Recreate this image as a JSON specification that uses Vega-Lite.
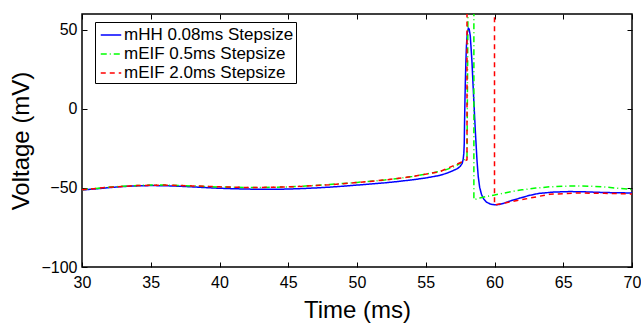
{
  "$schema": "https://vega.github.io/schema/vega-lite/v6.json",
  "width": 550,
  "height": 253,
  "autosize": {"type": "none"},
  "padding": {"left": 82, "top": 14, "right": 9, "bottom": 57},
  "background": "white",
  "config": {
    "font": "Liberation Sans",
    "view": {"stroke": "black", "strokeWidth": 1.5},
    "axis": {
      "domain": false,
      "grid": false,
      "tickColor": "black",
      "tickSize": -5,
      "tickWidth": 1,
      "labelFont": "Liberation Sans",
      "labelFontSize": 16,
      "labelColor": "black",
      "labelFlush": false,
      "labelOverlap": false,
      "labelBound": false,
      "titleFont": "Liberation Sans",
      "titleFontSize": 24,
      "titleFontWeight": "normal",
      "titleColor": "black"
    }
  },
  "data": {
    "values": [
      {"i": 1, "s": "mHH 0.08ms Stepsize", "t": 30, "v": -51.3},
      {"i": 2, "s": "mHH 0.08ms Stepsize", "t": 31, "v": -50.6},
      {"i": 3, "s": "mHH 0.08ms Stepsize", "t": 32, "v": -49.8},
      {"i": 4, "s": "mHH 0.08ms Stepsize", "t": 33, "v": -49.1},
      {"i": 5, "s": "mHH 0.08ms Stepsize", "t": 34, "v": -48.7},
      {"i": 6, "s": "mHH 0.08ms Stepsize", "t": 35, "v": -48.5},
      {"i": 7, "s": "mHH 0.08ms Stepsize", "t": 36, "v": -48.6},
      {"i": 8, "s": "mHH 0.08ms Stepsize", "t": 37, "v": -48.9},
      {"i": 9, "s": "mHH 0.08ms Stepsize", "t": 38, "v": -49.3},
      {"i": 10, "s": "mHH 0.08ms Stepsize", "t": 39, "v": -49.8},
      {"i": 11, "s": "mHH 0.08ms Stepsize", "t": 40, "v": -50.2},
      {"i": 12, "s": "mHH 0.08ms Stepsize", "t": 41, "v": -50.5},
      {"i": 13, "s": "mHH 0.08ms Stepsize", "t": 42, "v": -50.7},
      {"i": 14, "s": "mHH 0.08ms Stepsize", "t": 43, "v": -50.9},
      {"i": 15, "s": "mHH 0.08ms Stepsize", "t": 44, "v": -50.9},
      {"i": 16, "s": "mHH 0.08ms Stepsize", "t": 45, "v": -50.7},
      {"i": 17, "s": "mHH 0.08ms Stepsize", "t": 46, "v": -50.4},
      {"i": 18, "s": "mHH 0.08ms Stepsize", "t": 47, "v": -50.0},
      {"i": 19, "s": "mHH 0.08ms Stepsize", "t": 48, "v": -49.5},
      {"i": 20, "s": "mHH 0.08ms Stepsize", "t": 49, "v": -48.9},
      {"i": 21, "s": "mHH 0.08ms Stepsize", "t": 50, "v": -48.2},
      {"i": 22, "s": "mHH 0.08ms Stepsize", "t": 51, "v": -47.5},
      {"i": 23, "s": "mHH 0.08ms Stepsize", "t": 52, "v": -46.8},
      {"i": 24, "s": "mHH 0.08ms Stepsize", "t": 53, "v": -45.9},
      {"i": 25, "s": "mHH 0.08ms Stepsize", "t": 54, "v": -44.9},
      {"i": 26, "s": "mHH 0.08ms Stepsize", "t": 55, "v": -43.7},
      {"i": 27, "s": "mHH 0.08ms Stepsize", "t": 56, "v": -42.1},
      {"i": 28, "s": "mHH 0.08ms Stepsize", "t": 56.5, "v": -40.8},
      {"i": 29, "s": "mHH 0.08ms Stepsize", "t": 57, "v": -39.0},
      {"i": 30, "s": "mHH 0.08ms Stepsize", "t": 57.3, "v": -37.8},
      {"i": 31, "s": "mHH 0.08ms Stepsize", "t": 57.5, "v": -36.4},
      {"i": 32, "s": "mHH 0.08ms Stepsize", "t": 57.65, "v": -34.5},
      {"i": 33, "s": "mHH 0.08ms Stepsize", "t": 57.72, "v": -32},
      {"i": 34, "s": "mHH 0.08ms Stepsize", "t": 57.77, "v": -28},
      {"i": 35, "s": "mHH 0.08ms Stepsize", "t": 57.8, "v": -22},
      {"i": 36, "s": "mHH 0.08ms Stepsize", "t": 57.82, "v": -10},
      {"i": 37, "s": "mHH 0.08ms Stepsize", "t": 57.85, "v": 5},
      {"i": 38, "s": "mHH 0.08ms Stepsize", "t": 57.88, "v": 17},
      {"i": 39, "s": "mHH 0.08ms Stepsize", "t": 57.92, "v": 30},
      {"i": 40, "s": "mHH 0.08ms Stepsize", "t": 57.96, "v": 40},
      {"i": 41, "s": "mHH 0.08ms Stepsize", "t": 58.02, "v": 48},
      {"i": 42, "s": "mHH 0.08ms Stepsize", "t": 58.1, "v": 51},
      {"i": 43, "s": "mHH 0.08ms Stepsize", "t": 58.16, "v": 50.5},
      {"i": 44, "s": "mHH 0.08ms Stepsize", "t": 58.24, "v": 46},
      {"i": 45, "s": "mHH 0.08ms Stepsize", "t": 58.36, "v": 30},
      {"i": 46, "s": "mHH 0.08ms Stepsize", "t": 58.48, "v": 8},
      {"i": 47, "s": "mHH 0.08ms Stepsize", "t": 58.6, "v": -13},
      {"i": 48, "s": "mHH 0.08ms Stepsize", "t": 58.73, "v": -33},
      {"i": 49, "s": "mHH 0.08ms Stepsize", "t": 58.82, "v": -43},
      {"i": 50, "s": "mHH 0.08ms Stepsize", "t": 58.92, "v": -49.5},
      {"i": 51, "s": "mHH 0.08ms Stepsize", "t": 59.05, "v": -54},
      {"i": 52, "s": "mHH 0.08ms Stepsize", "t": 59.2, "v": -56.8},
      {"i": 53, "s": "mHH 0.08ms Stepsize", "t": 59.4, "v": -58.9},
      {"i": 54, "s": "mHH 0.08ms Stepsize", "t": 59.7, "v": -60.2},
      {"i": 55, "s": "mHH 0.08ms Stepsize", "t": 60.0, "v": -60.7},
      {"i": 56, "s": "mHH 0.08ms Stepsize", "t": 60.3, "v": -60.5},
      {"i": 57, "s": "mHH 0.08ms Stepsize", "t": 60.7, "v": -59.6},
      {"i": 58, "s": "mHH 0.08ms Stepsize", "t": 61.2, "v": -58.1},
      {"i": 59, "s": "mHH 0.08ms Stepsize", "t": 61.9, "v": -56.3},
      {"i": 60, "s": "mHH 0.08ms Stepsize", "t": 62.5, "v": -54.8},
      {"i": 61, "s": "mHH 0.08ms Stepsize", "t": 63.2, "v": -53.5},
      {"i": 62, "s": "mHH 0.08ms Stepsize", "t": 64.3, "v": -52.6},
      {"i": 63, "s": "mHH 0.08ms Stepsize", "t": 65.5, "v": -52.3},
      {"i": 64, "s": "mHH 0.08ms Stepsize", "t": 66.7, "v": -52.5},
      {"i": 65, "s": "mHH 0.08ms Stepsize", "t": 68, "v": -52.9},
      {"i": 66, "s": "mHH 0.08ms Stepsize", "t": 70, "v": -53.2},

      {"i": 101, "s": "mEIF 0.5ms Stepsize", "t": 30, "v": -51.1},
      {"i": 102, "s": "mEIF 0.5ms Stepsize", "t": 31, "v": -50.3},
      {"i": 103, "s": "mEIF 0.5ms Stepsize", "t": 32, "v": -49.5},
      {"i": 104, "s": "mEIF 0.5ms Stepsize", "t": 33, "v": -48.9},
      {"i": 105, "s": "mEIF 0.5ms Stepsize", "t": 34, "v": -48.5},
      {"i": 106, "s": "mEIF 0.5ms Stepsize", "t": 35, "v": -48.2},
      {"i": 107, "s": "mEIF 0.5ms Stepsize", "t": 36, "v": -48.2},
      {"i": 108, "s": "mEIF 0.5ms Stepsize", "t": 37, "v": -48.4},
      {"i": 109, "s": "mEIF 0.5ms Stepsize", "t": 38, "v": -48.7},
      {"i": 110, "s": "mEIF 0.5ms Stepsize", "t": 39, "v": -49.1},
      {"i": 111, "s": "mEIF 0.5ms Stepsize", "t": 40, "v": -49.4},
      {"i": 112, "s": "mEIF 0.5ms Stepsize", "t": 41, "v": -49.6},
      {"i": 113, "s": "mEIF 0.5ms Stepsize", "t": 42, "v": -49.7},
      {"i": 114, "s": "mEIF 0.5ms Stepsize", "t": 43, "v": -49.7},
      {"i": 115, "s": "mEIF 0.5ms Stepsize", "t": 44, "v": -49.6},
      {"i": 116, "s": "mEIF 0.5ms Stepsize", "t": 45, "v": -49.3},
      {"i": 117, "s": "mEIF 0.5ms Stepsize", "t": 46, "v": -48.9},
      {"i": 118, "s": "mEIF 0.5ms Stepsize", "t": 47, "v": -48.4},
      {"i": 119, "s": "mEIF 0.5ms Stepsize", "t": 48, "v": -47.8},
      {"i": 120, "s": "mEIF 0.5ms Stepsize", "t": 49, "v": -47.2},
      {"i": 121, "s": "mEIF 0.5ms Stepsize", "t": 50, "v": -46.5},
      {"i": 122, "s": "mEIF 0.5ms Stepsize", "t": 51, "v": -45.8},
      {"i": 123, "s": "mEIF 0.5ms Stepsize", "t": 52, "v": -45.0},
      {"i": 124, "s": "mEIF 0.5ms Stepsize", "t": 53, "v": -44.0},
      {"i": 125, "s": "mEIF 0.5ms Stepsize", "t": 54, "v": -42.8},
      {"i": 126, "s": "mEIF 0.5ms Stepsize", "t": 55, "v": -41.3},
      {"i": 127, "s": "mEIF 0.5ms Stepsize", "t": 56, "v": -39.6},
      {"i": 128, "s": "mEIF 0.5ms Stepsize", "t": 56.5, "v": -38.4},
      {"i": 129, "s": "mEIF 0.5ms Stepsize", "t": 57, "v": -36.8},
      {"i": 130, "s": "mEIF 0.5ms Stepsize", "t": 57.5, "v": -34.5},
      {"i": 131, "s": "mEIF 0.5ms Stepsize", "t": 58, "v": -30.5},
      {"i": 132, "s": "mEIF 0.5ms Stepsize", "t": 58.5, "v": 616},
      {"i": 133, "s": "mEIF 0.5ms Stepsize", "t": 58.5, "v": -57.4},
      {"i": 134, "s": "mEIF 0.5ms Stepsize", "t": 59, "v": -56.2},
      {"i": 135, "s": "mEIF 0.5ms Stepsize", "t": 59.5, "v": -55.3},
      {"i": 136, "s": "mEIF 0.5ms Stepsize", "t": 60, "v": -54.5},
      {"i": 137, "s": "mEIF 0.5ms Stepsize", "t": 60.5, "v": -53.6},
      {"i": 138, "s": "mEIF 0.5ms Stepsize", "t": 61, "v": -52.7},
      {"i": 139, "s": "mEIF 0.5ms Stepsize", "t": 62, "v": -51.2},
      {"i": 140, "s": "mEIF 0.5ms Stepsize", "t": 63, "v": -50.1},
      {"i": 141, "s": "mEIF 0.5ms Stepsize", "t": 64, "v": -49.3},
      {"i": 142, "s": "mEIF 0.5ms Stepsize", "t": 65, "v": -48.9},
      {"i": 143, "s": "mEIF 0.5ms Stepsize", "t": 66, "v": -48.7},
      {"i": 144, "s": "mEIF 0.5ms Stepsize", "t": 67, "v": -48.9},
      {"i": 145, "s": "mEIF 0.5ms Stepsize", "t": 68, "v": -49.4},
      {"i": 146, "s": "mEIF 0.5ms Stepsize", "t": 69, "v": -50.2},
      {"i": 147, "s": "mEIF 0.5ms Stepsize", "t": 70, "v": -51.0},

      {"i": 201, "s": "mEIF 2.0ms Stepsize", "t": 30, "v": -51.2},
      {"i": 202, "s": "mEIF 2.0ms Stepsize", "t": 32, "v": -49.5},
      {"i": 203, "s": "mEIF 2.0ms Stepsize", "t": 34, "v": -48.5},
      {"i": 204, "s": "mEIF 2.0ms Stepsize", "t": 36, "v": -48.2},
      {"i": 205, "s": "mEIF 2.0ms Stepsize", "t": 38, "v": -48.7},
      {"i": 206, "s": "mEIF 2.0ms Stepsize", "t": 40, "v": -49.3},
      {"i": 207, "s": "mEIF 2.0ms Stepsize", "t": 42, "v": -49.7},
      {"i": 208, "s": "mEIF 2.0ms Stepsize", "t": 44, "v": -49.6},
      {"i": 209, "s": "mEIF 2.0ms Stepsize", "t": 46, "v": -49.0},
      {"i": 210, "s": "mEIF 2.0ms Stepsize", "t": 48, "v": -48.0},
      {"i": 211, "s": "mEIF 2.0ms Stepsize", "t": 50, "v": -46.6},
      {"i": 212, "s": "mEIF 2.0ms Stepsize", "t": 52, "v": -45.0},
      {"i": 213, "s": "mEIF 2.0ms Stepsize", "t": 54, "v": -42.8},
      {"i": 214, "s": "mEIF 2.0ms Stepsize", "t": 56, "v": -39.8},
      {"i": 215, "s": "mEIF 2.0ms Stepsize", "t": 58, "v": -32.2},
      {"i": 216, "s": "mEIF 2.0ms Stepsize", "t": 58, "v": 200},
      {"i": 217, "s": "mEIF 2.0ms Stepsize", "t": 60, "v": 200},
      {"i": 218, "s": "mEIF 2.0ms Stepsize", "t": 60, "v": -60.8},
      {"i": 219, "s": "mEIF 2.0ms Stepsize", "t": 62, "v": -57.4},
      {"i": 220, "s": "mEIF 2.0ms Stepsize", "t": 64, "v": -54.0},
      {"i": 221, "s": "mEIF 2.0ms Stepsize", "t": 66, "v": -53.2},
      {"i": 222, "s": "mEIF 2.0ms Stepsize", "t": 68, "v": -53.4},
      {"i": 223, "s": "mEIF 2.0ms Stepsize", "t": 70, "v": -53.8}
    ]
  },
  "layer": [
    {
      "mark": {"type": "line", "clip": true, "strokeWidth": 1.5},
      "encoding": {
        "x": {
          "field": "t", "type": "quantitative",
          "scale": {"domain": [30, 70], "nice": false, "zero": false},
          "axis": {"orient": "bottom", "values": [30, 35, 40, 45, 50, 55, 60, 65, 70], "title": "Time (ms)", "labelPadding": 12, "titlePadding": 8}
        },
        "y": {
          "field": "v", "type": "quantitative",
          "scale": {"domain": [-100, 60], "nice": false, "zero": false},
          "axis": {"orient": "left", "values": [-100, -50, 0, 50], "title": "Voltage (mV)", "labelPadding": 10, "titlePadding": 7}
        },
        "color": {
          "field": "s", "type": "nominal",
          "scale": {"domain": ["mHH 0.08ms Stepsize", "mEIF 0.5ms Stepsize", "mEIF 2.0ms Stepsize"], "range": ["#0000ff", "#00ff00", "#ff0000"]},
          "legend": {"orient": "none", "legendX": 13, "legendY": 8, "title": null, "fillColor": "white", "strokeColor": "black", "padding": 2, "labelFont": "Liberation Sans", "labelFontSize": 17, "labelColor": "black", "labelLimit": 400, "symbolType": "stroke", "symbolSize": 420, "symbolStrokeWidth": 1.5, "symbolOffset": 3, "labelOffset": 2, "rowPadding": 0}
        },
        "strokeDash": {
          "field": "s", "type": "nominal",
          "scale": {"domain": ["mHH 0.08ms Stepsize", "mEIF 0.5ms Stepsize", "mEIF 2.0ms Stepsize"], "range": [[1, 0], [6, 3, 1, 3], [5, 4]]},
          "legend": {"orient": "none", "legendX": 13, "legendY": 8, "title": null, "fillColor": "white", "strokeColor": "black", "padding": 2, "labelFont": "Liberation Sans", "labelFontSize": 17, "labelColor": "black", "labelLimit": 400, "symbolType": "stroke", "symbolSize": 420, "symbolStrokeWidth": 1.5, "symbolOffset": 3, "labelOffset": 2, "rowPadding": 0}
        },
        "order": {"field": "i", "type": "quantitative"}
      }
    },
    {
      "mark": {"type": "point", "opacity": 0},
      "encoding": {
        "x": {"field": "t", "type": "quantitative", "axis": {"orient": "top", "values": [30, 35, 40, 45, 50, 55, 60, 65, 70], "labels": false, "title": null}},
        "y": {"field": "v", "type": "quantitative", "axis": {"orient": "right", "values": [-100, -50, 0, 50], "labels": false, "title": null}}
      }
    }
  ],
  "resolve": {"axis": {"x": "independent", "y": "independent"}}
}
